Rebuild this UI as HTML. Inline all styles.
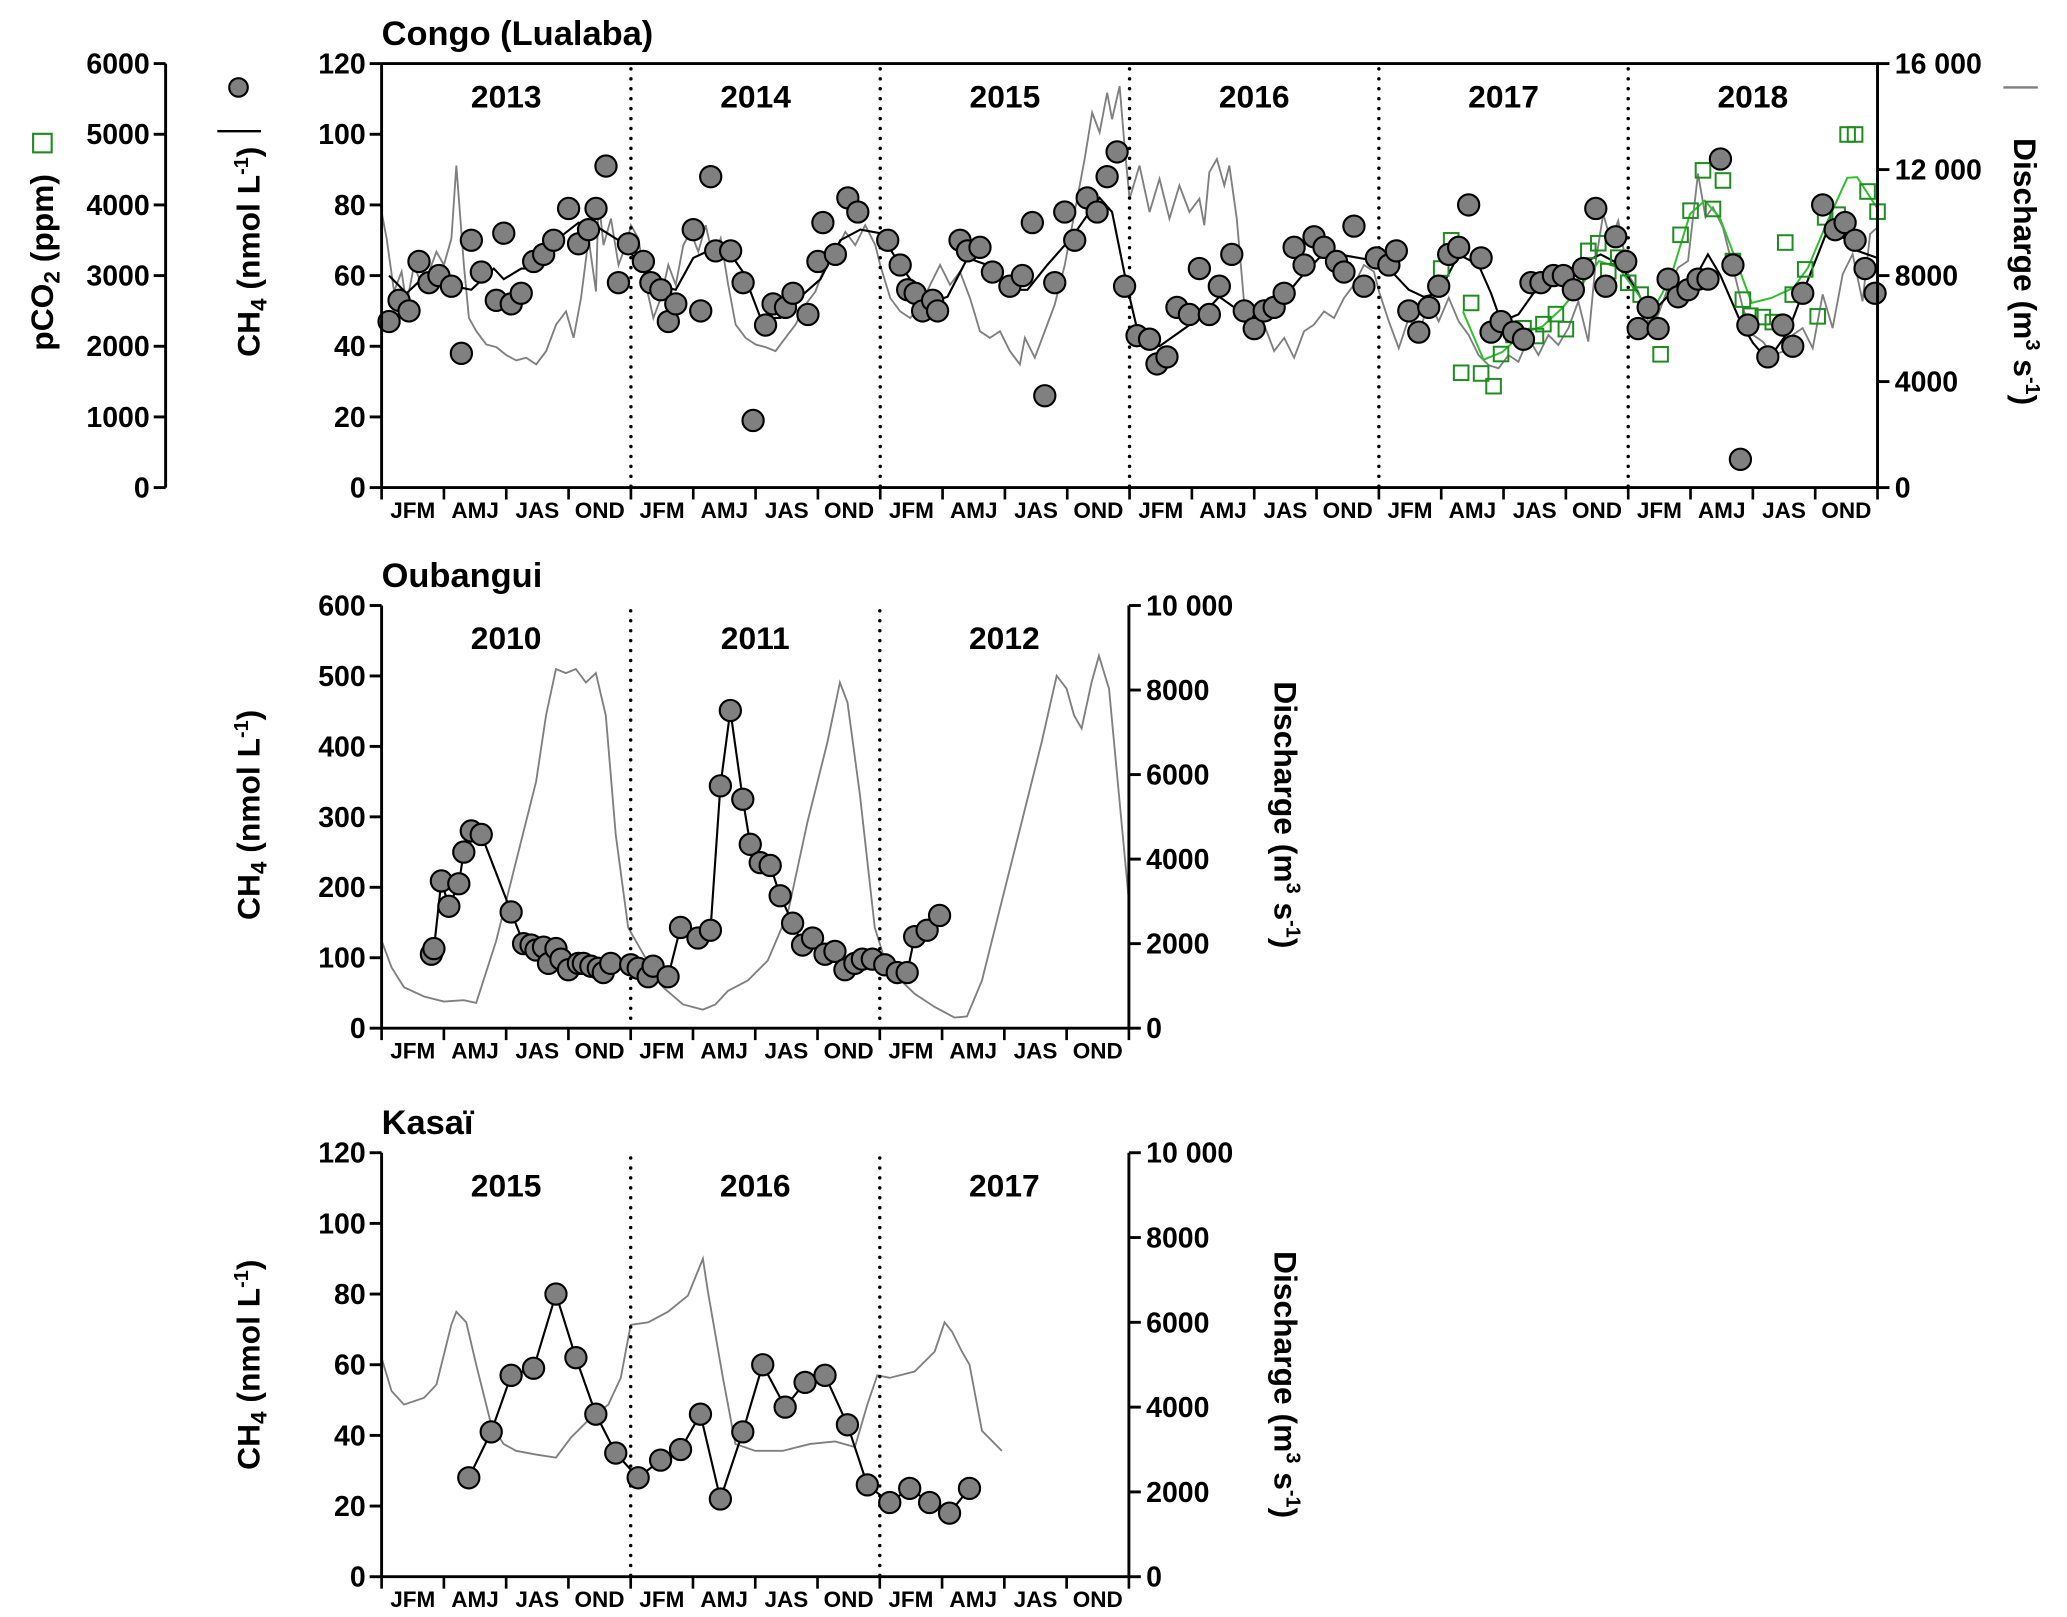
<!DOCTYPE html>
<html><head><meta charset="utf-8"><style>
html,body{margin:0;padding:0;background:#fff;}
svg{display:block;font-family:"Liberation Sans",Arial,sans-serif;font-weight:bold;}
</style></head><body>
<svg id="fig" xmlns="http://www.w3.org/2000/svg" width="2067" height="1617" viewBox="0 0 1560 1220.4" preserveAspectRatio="none"></svg>
<script>
// ---------- Congo (Lualaba) data (t = years since Jan 2013) ----------
const congoCh4T=[0.03,0.07,0.11,0.15,0.19,0.23,0.28,0.32,0.36,0.40,0.46,0.49,0.52,0.56,0.61,0.65,0.69,0.75,0.79,0.83,0.86,0.90,0.95,0.99,1.05,1.08,1.12,1.15,1.18,1.25,1.28,1.32,1.34,1.40,1.45,1.49,1.54,1.57,1.62,1.65,1.71,1.75,1.77,1.82,1.87,1.91,2.03,2.08,2.11,2.14,2.17,2.21,2.23,2.32,2.35,2.40,2.45,2.52,2.57,2.61,2.66,2.70,2.74,2.78,2.83,2.87,2.91,2.95,2.98,3.03,3.08,3.11,3.15,3.19,3.24,3.28,3.32,3.36,3.41,3.46,3.50,3.54,3.58,3.62,3.66,3.70,3.74,3.78,3.83,3.86,3.90,3.94,3.99,4.04,4.07,4.12,4.16,4.20,4.24,4.28,4.32,4.36,4.41,4.45,4.49,4.54,4.58,4.61,4.65,4.70,4.74,4.78,4.82,4.87,4.91,4.95,4.99,5.04,5.08,5.12,5.16,5.20,5.24,5.28,5.32,5.37,5.42,5.45,5.48,5.56,5.62,5.66,5.70,5.78,5.83,5.87,5.91,5.95,5.99];
const congoCh4V=[47,53,50,64,58,60,57,38,70,61,53,72,52,55,64,66,70,79,69,73,79,91,58,69,64,58,56,47,52,73,50,88,67,67,58,19,46,52,51,55,49,64,75,66,82,78,70,63,56,55,50,53,50,70,67,68,61,57,60,75,26,58,78,70,82,78,88,95,57,43,42,35,37,51,49,62,49,57,66,50,45,50,51,55,68,63,71,68,64,61,74,57,65,63,67,50,44,51,57,66,68,80,65,44,47,44,42,58,58,60,60,56,62,79,57,71,64,45,51,45,59,54,56,59,59,93,63,8,46,37,46,40,55,80,73,75,70,62,55];
const congoMeanT=[0.03,0.10,0.16,0.23,0.29,0.36,0.45,0.49,0.56,0.61,0.70,0.79,0.86,0.95,1.03,1.12,1.18,1.25,1.37,1.45,1.52,1.60,1.68,1.76,1.84,1.92,2.00,2.08,2.19,2.27,2.35,2.43,2.51,2.59,2.67,2.77,2.88,2.93,2.99,3.04,3.12,3.20,3.28,3.36,3.44,3.52,3.60,3.68,3.76,3.84,3.92,4.00,4.04,4.12,4.18,4.24,4.32,4.40,4.45,4.49,4.56,4.63,4.70,4.77,4.89,4.97,5.09,5.17,5.25,5.32,5.37,5.45,5.50,5.56,5.64,5.70,5.80,5.88,5.92,6.00];
const congoMeanV=[60,55,59,58,57,56,62,59,62,62,70,75,74,70,64,57,56,65,69,61,48,48,54,59,70,73,72,63,52,54,65,63,56,56,63,71,82,78,57,42,40,44,48,54,50,48,52,59,65,66,65,64,62,56,54,55,66,63,55,47,49,56,58,62,66,63,49,55,57,66,60,47,41,36,44,55,73,70,67,65];
const congoPco2T=[4.25,4.29,4.33,4.37,4.41,4.46,4.49,4.54,4.58,4.63,4.66,4.71,4.75,4.79,4.84,4.88,4.92,4.96,5.00,5.05,5.09,5.13,5.21,5.25,5.30,5.34,5.38,5.42,5.46,5.49,5.54,5.58,5.63,5.66,5.71,5.76,5.79,5.84,5.88,5.91,5.96,6.00];
const congoPco2V=[3100,3500,1625,2613,1615,1435,1890,2160,2255,2145,2313,2455,2242,2978,3350,3458,3064,3254,2898,2731,2304,1886,3577,3919,4489,3943,4346,3206,2660,2432,2413,2342,3468,2731,3088,2423,3824,3862,4997,4997,4190,3905];
const congoPco2MeanT=[4.337,4.420,4.495,4.577,4.656,4.735,4.814,4.883,4.962,5.041,5.091,5.170,5.248,5.307,5.367,5.426,5.495,5.574,5.662,5.721,5.800,5.879,5.918,5.997];
const congoPco2MeanV=[2494,1809,1919,2185,2280,2541,2874,3206,3111,2731,2456,2969,3871,4061,3824,3278,2613,2684,2826,3111,3776,4384,4394,3966];
const congoQT=[0,0.02,0.05,0.08,0.10,0.13,0.16,0.19,0.22,0.25,0.28,0.30,0.31,0.33,0.35,0.38,0.42,0.46,0.50,0.54,0.58,0.62,0.66,0.70,0.74,0.77,0.80,0.83,0.86,0.87,0.89,0.92,0.95,0.98,1.00,1.03,1.06,1.09,1.12,1.15,1.18,1.21,1.24,1.27,1.30,1.33,1.36,1.39,1.42,1.46,1.50,1.54,1.58,1.62,1.66,1.70,1.74,1.78,1.82,1.86,1.90,1.94,1.98,2.00,2.04,2.08,2.12,2.16,2.20,2.24,2.28,2.32,2.36,2.40,2.44,2.48,2.52,2.56,2.58,2.62,2.66,2.70,2.74,2.78,2.82,2.85,2.88,2.91,2.93,2.96,2.98,3.00,3.04,3.08,3.12,3.16,3.20,3.24,3.28,3.30,3.32,3.35,3.38,3.40,3.43,3.46,3.50,3.54,3.58,3.62,3.66,3.70,3.74,3.78,3.82,3.86,3.90,3.94,3.98,4.00,4.04,4.08,4.12,4.16,4.20,4.24,4.28,4.32,4.36,4.40,4.44,4.48,4.52,4.56,4.60,4.64,4.68,4.72,4.76,4.80,4.84,4.87,4.90,4.93,4.96,5.00,5.04,5.08,5.12,5.16,5.20,5.24,5.28,5.31,5.34,5.38,5.42,5.46,5.50,5.54,5.58,5.62,5.66,5.70,5.74,5.78,5.82,5.86,5.90,5.94,5.97,6.00];
const congoQV=[10400,9400,7400,8150,6900,8400,7650,8150,8900,8400,9400,12150,10900,8400,6400,5900,5400,5300,5000,4800,4900,4650,5150,6150,6650,5650,7150,9400,7400,10900,9150,10150,8400,9150,9900,9400,7650,6400,7150,8400,7650,9150,9650,8900,9900,8650,9400,7650,6150,5650,5400,5300,5150,5650,6150,6900,7400,8400,8900,9650,9150,9900,9150,8400,7150,6650,6400,6800,7650,8400,7650,8150,7150,5900,5650,5900,5150,4650,5650,4900,5900,6900,8400,10400,12400,14150,13400,14900,13900,15150,12900,10900,12150,10400,11650,10150,11400,10400,10900,9900,11900,12400,11400,12150,10150,6900,5900,6150,5150,5650,4900,5900,6150,6650,6400,7150,7650,8400,8150,7410,6270,5260,6400,5760,7030,6270,7160,6270,5760,5000,4620,4500,5000,4750,5640,5000,5760,5380,6020,7030,5510,8550,10330,9310,10070,8050,7410,6270,6520,7540,8300,8550,11850,10200,10580,9820,8300,6780,5760,5510,5000,5130,5760,6020,5260,7290,6020,8050,8810,7030,9570,9820];
// ---------- Oubangui (t = years since Jan 2010) ----------
const oubCh4T=[0.20,0.21,0.24,0.27,0.31,0.33,0.36,0.40,0.52,0.57,0.60,0.62,0.65,0.67,0.70,0.72,0.75,0.79,0.81,0.84,0.87,0.89,0.92,1.00,1.03,1.07,1.09,1.15,1.20,1.27,1.32,1.36,1.40,1.45,1.48,1.52,1.56,1.60,1.65,1.69,1.73,1.78,1.82,1.86,1.90,1.93,1.97,2.02,2.07,2.11,2.14,2.19,2.24];
const oubCh4V=[105,113,209,173,205,250,280,275,165,120,118,111,115,92,113,98,83,92,92,88,85,79,92,90,85,73,88,73,143,128,139,344,451,325,261,235,231,188,149,118,128,105,109,83,92,98,98,90,79,79,130,139,160];
const oubQT=[0,0.04,0.09,0.17,0.25,0.33,0.38,0.46,0.54,0.62,0.66,0.70,0.74,0.78,0.82,0.86,0.90,0.94,0.99,1.05,1.13,1.21,1.29,1.34,1.39,1.47,1.55,1.63,1.71,1.79,1.84,1.87,1.92,1.98,2.03,2.14,2.22,2.30,2.35,2.41,2.49,2.57,2.65,2.71,2.75,2.78,2.81,2.85,2.88,2.92,2.96,3.00];
const oubQV=[2070,1440,970,750,630,660,600,2070,3950,5830,7400,8500,8400,8500,8180,8400,7400,4580,2380,1760,970,560,440,560,880,1130,1600,2700,4890,6770,8180,7710,5520,2380,1440,815,500,250,280,1130,3010,4890,6770,8340,8030,7400,7090,8180,8810,8030,5520,3010];
// ---------- Kasaï (t = years since Jan 2015) ----------
const kasCh4T=[0.35,0.44,0.52,0.61,0.70,0.78,0.86,0.94,1.03,1.12,1.20,1.28,1.36,1.45,1.53,1.62,1.70,1.78,1.87,1.95,2.04,2.12,2.20,2.28,2.36];
const kasCh4V=[28,41,57,59,80,62,46,35,28,33,36,46,22,41,60,48,55,57,43,26,21,25,21,18,25];
const kasQT=[0,0.04,0.09,0.17,0.22,0.28,0.30,0.34,0.38,0.44,0.49,0.54,0.62,0.70,0.76,0.84,0.91,0.96,1.00,1.07,1.15,1.23,1.29,1.31,1.37,1.42,1.50,1.61,1.72,1.82,1.90,1.95,1.99,2.04,2.14,2.22,2.26,2.29,2.33,2.36,2.41,2.49];
const kasQV=[5160,4380,4060,4220,4530,5940,6250,6000,5000,3590,3130,2970,2880,2810,3280,3750,4060,4690,5940,6000,6250,6630,7500,6720,4690,3130,2970,2970,3130,3190,3060,4060,4750,4690,4840,5310,6000,5780,5310,5000,3440,2970];
const months=["JFM","AMJ","JAS","OND"];

const NS="http://www.w3.org/2000/svg";
const svg=document.getElementById('fig');
function el(tag,attrs,parent){const e=document.createElementNS(NS,tag);for(const k in attrs)e.setAttribute(k,attrs[k]);(parent||svg).appendChild(e);return e;}
function txt(s,attrs,parent){const e=el('text',attrs,parent);e.textContent=s;return e;}

function panel(c){
  const g=el('g',{});
  
  
  const X=t=>c.L+(c.R-c.L)*t/c.years;
  const Y=v=>c.B-(c.B-c.T)*v/c.ymax;
  const Y2=v=>c.B-(c.B-c.T)*v/c.qmax;
  const ti=txt(c.title,{x:c.L,y:c.T-14,'font-size':26},g);
  
  let d='';c.qT.forEach((t,i)=>{d+=(i?'L':'M')+X(t).toFixed(1)+' '+Y2(c.qV[i]).toFixed(1);});
  const ql=el('path',{d:d,fill:'none',stroke:'#7f7f7f','stroke-width':1.4},g);
  
  for(let y=1;y<c.years;y++){
    const dl=el('line',{x1:X(y),x2:X(y),y1:c.T+4,y2:c.B,stroke:'#000','stroke-width':2.6,'stroke-dasharray':'0 7.5','stroke-linecap':'round'},g);
    
  }
  c.yearLabels.forEach((s,i)=>{const yl=txt(s,{x:X(i+0.5),y:c.T+33,'font-size':24,'text-anchor':'middle'},g);
    });
  if(c.mT){let d2='';c.mT.forEach((t,i)=>{d2+=(i?'L':'M')+X(t).toFixed(1)+' '+Y(c.mV[i]).toFixed(1);});
    const ml=el('path',{d:d2,fill:'none',stroke:'#000','stroke-width':1.6},g);
    }
  if(c.connect){let d2='';c.cT.forEach((t,i)=>{d2+=(i?'L':'M')+X(t).toFixed(1)+' '+Y(c.cV[i]).toFixed(1);});
    const cl=el('path',{d:d2,fill:'none',stroke:'#000','stroke-width':1.6},g);
    }
  if(c.pT){
    const P=v=>c.B-(c.B-c.T)*v/6000;
    let d3='';c.pmT.forEach((t,i)=>{d3+=(i?'L':'M')+X(t).toFixed(1)+' '+P(c.pmV[i]).toFixed(1);});
    const pl=el('path',{d:d3,fill:'none',stroke:'#2fbf2f','stroke-width':1.5},g);
    
    c.pT.forEach((t,i)=>{const s=el('rect',{x:X(t)-5.5,y:P(c.pV[i])-5.5,width:11,height:11,fill:'none',stroke:'#1e8c1e','stroke-width':1.5},g);
      });
  }
  c.cT.forEach((t,i)=>{const p=el('circle',{cx:X(t),cy:Y(c.cV[i]),r:8,fill:'#808080',stroke:'#000','stroke-width':1.6},g);
    });
  const ax=el('path',{d:`M${c.L} ${c.T}V${c.B}H${c.R}V${c.T}`+(c.topLine?`H${c.L}`:''),fill:'none',stroke:'#000','stroke-width':2.2},g);
  
  c.yTicks.forEach(v=>{el('line',{x1:c.L-9,x2:c.L,y1:Y(v),y2:Y(v),stroke:'#000','stroke-width':2.2},g);
    const t=txt(String(v),{x:c.L-12,y:Y(v)+7.5,'font-size':21.5,'text-anchor':'end'},g);
    });
  c.qTicks.forEach((v,i)=>{el('line',{x1:c.R,x2:c.R+9,y1:Y2(v),y2:Y2(v),stroke:'#000','stroke-width':2.2},g);
    const t=txt(c.qLabels[i],{x:c.R+13,y:Y2(v)+7.5,'font-size':21.5},g);
    });
  for(let q=0;q<=c.years*4;q++){el('line',{x1:X(q/4),x2:X(q/4),y1:c.B,y2:c.B+9,stroke:'#000','stroke-width':2},g);}
  for(let q=0;q<c.years*4;q++){const t=txt(months[q%4],{x:X(q/4+0.125),y:c.B+23,'font-size':17,'text-anchor':'middle'},g);
    }
  const lt=el('text',{transform:`translate(${c.L-92},${c.ltY}) rotate(-90)`,'font-size':24,'text-anchor':'middle'},g);
  lt.innerHTML='CH<tspan font-size="17" dy="5">4</tspan><tspan dy="-5"> (nmol L</tspan><tspan font-size="15" dy="-9">-1</tspan><tspan dy="9">)</tspan>';
  
  const rt=el('text',{transform:`translate(${c.rtX},${c.rtY}) rotate(90)`,'font-size':24,'text-anchor':'middle'},g);
  rt.innerHTML='Discharge (m<tspan font-size="15" dy="-9">3</tspan><tspan dy="9"> s</tspan><tspan font-size="15" dy="-9">-1</tspan><tspan dy="9">)</tspan>';
  
}

panel({name:'congo',title:'Congo (Lualaba)',L:288,R:1417,T:48,B:368,years:6,ymax:120,qmax:16000,topLine:true,
  yearLabels:['2013','2014','2015','2016','2017','2018'],yTicks:[0,20,40,60,80,100,120],
  qTicks:[0,4000,8000,12000,16000],qLabels:['0','4000','8000','12 000','16 000'],
  cT:congoCh4T,cV:congoCh4V,mT:congoMeanT,mV:congoMeanV,qT:congoQT,qV:congoQV,
  pT:congoPco2T,pV:congoPco2V,pmT:congoPco2MeanT,pmV:congoPco2MeanV,ltY:190,rtX:1520,rtY:205});
panel({name:'oubangui',title:'Oubangui',L:288,R:852,T:457,B:776,years:3,ymax:600,qmax:10000,topLine:false,
  yearLabels:['2010','2011','2012'],yTicks:[0,100,200,300,400,500,600],
  qTicks:[0,2000,4000,6000,8000,10000],qLabels:['0','2000','4000','6000','8000','10 000'],
  cT:oubCh4T,cV:oubCh4V,connect:true,qT:oubQT,qV:oubQV,ltY:615,rtX:962,rtY:615});
panel({name:'kasai',title:'Kasaï',L:288,R:852,T:870,B:1190,years:3,ymax:120,qmax:10000,topLine:false,
  yearLabels:['2015','2016','2017'],yTicks:[0,20,40,60,80,100,120],
  qTicks:[0,2000,4000,6000,8000,10000],qLabels:['0','2000','4000','6000','8000','10 000'],
  cT:kasCh4T,cV:kasCh4V,connect:true,qT:kasQT,qV:kasQV,ltY:1030,rtX:962,rtY:1045});

(function(){
  const g=el('g',{});
  
  
  const T=48,B=368,x=125;
  el('line',{x1:x,x2:x,y1:T,y2:B,stroke:'#000','stroke-width':2.2},g);
  [0,1000,2000,3000,4000,5000,6000].forEach(v=>{const y=B-(B-T)*v/6000;
    el('line',{x1:x-9,x2:x,y1:y,y2:y,stroke:'#000','stroke-width':2.2},g);
    const t=txt(String(v),{x:x-12,y:y+7.5,'font-size':21.5,'text-anchor':'end'},g);
    });
  const pt=el('text',{transform:'translate(40,198) rotate(-90)','font-size':24,'text-anchor':'middle'},g);
  pt.innerHTML='pCO<tspan font-size="17" dy="5">2</tspan><tspan dy="-5"> (ppm)</tspan>';
  
  const ls=el('rect',{x:25,y:101,width:14,height:14,fill:'none',stroke:'#1e8c1e','stroke-width':1.6},g);
  
  const lc=el('circle',{cx:180,cy:66,r:7,fill:'#808080',stroke:'#000','stroke-width':1.6},g);
  
  const ll=el('line',{x1:164,x2:197,y1:99,y2:99,stroke:'#000','stroke-width':1.8},g);
  
  const lq=el('line',{x1:1512,x2:1538,y1:66,y2:66,stroke:'#7f7f7f','stroke-width':1.8},g);
  
})();
</script>
</body></html>
